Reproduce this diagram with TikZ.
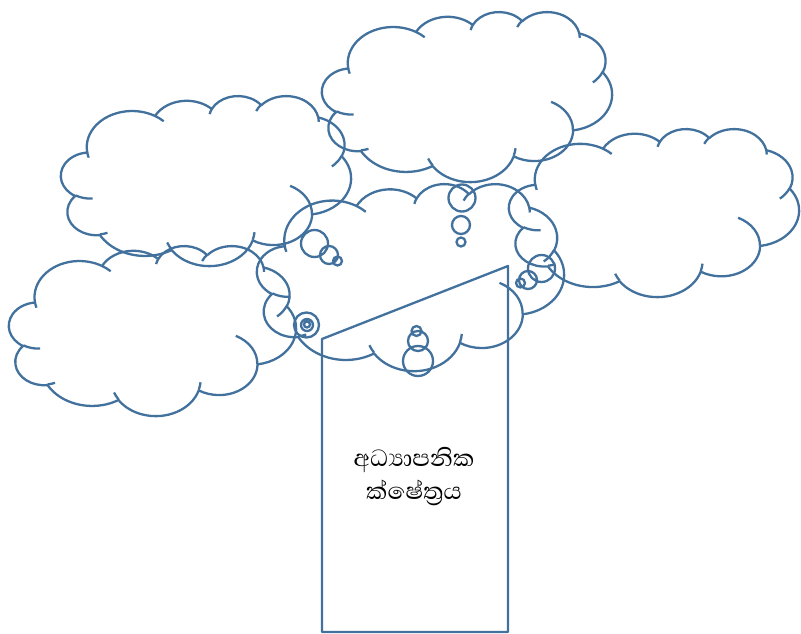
\documentclass[tikz,border=0pt]{standalone}
\usepackage{fontspec}
\newfontfamily\sinhalafont[Script=Sinhala]{Abhaya Libre}
\definecolor{cloudblue}{HTML}{41719C}
\tikzset{outline/.style={draw=cloudblue, line width=2.3pt, line join=round},
         bubble/.style={draw=cloudblue, line width=2.3pt},
% cloud outline on a 100 x 100 grid, y downwards (placed with shift/xscale/yscale)
cloudshape/.pic={
  \draw[outline] (9.0278,33.2639)
    arc[start angle=-187.741, delta angle=128.105, x radius=15.6319pt, y radius=21.2731pt]
    arc[start angle=-152.03, delta angle=106.605, x radius=12.3449pt, y radius=16.8218pt]
    arc[start angle=-153.49, delta angle=116.161, x radius=10.1042pt, y radius=13.7616pt]
    arc[start angle=-139.707, delta angle=129.495, x radius=11.2431pt, y radius=15.2662pt]
    arc[start angle=-74.768, delta angle=97.978, x radius=12.3449pt, y radius=16.8356pt]
    arc[start angle=-37.536, delta angle=119.397, x radius=15.6829pt, y radius=21.3426pt]
    arc[start angle=0.460, delta angle=121.520, x radius=13.3912pt, y radius=18.2106pt]
    arc[start angle=16.845, delta angle=129.414, x radius=15.6296pt, y radius=21.3310pt]
    arc[start angle=58.988, delta angle=91.217, x radius=17.8704pt, y radius=24.4051pt]
    arc[start angle=83.306, delta angle=139.819, x radius=10.0926pt, y radius=13.6991pt]
    arc[start angle=120.352, delta angle=143.759, x radius=10.0579pt, y radius=13.7616pt]
    -- cycle;
  \draw[outline]
    (10.8634,60.5949) arc[start angle=85.547, delta angle=34.805, x radius=10.0579pt, y radius=13.7616pt]
    (16.0370,80.7847) arc[start angle=68.237, delta angle=15.069, x radius=10.0926pt, y radius=13.6991pt]
    (38.1435,90.4861) arc[start angle=146.259, delta angle=12.216, x radius=15.6296pt, y radius=21.3310pt]
    (66.7292,80.4421) arc[start angle=4.738, delta angle=12.107, x radius=15.6296pt, y radius=21.3310pt]
    (79.0023,53.1343) arc[start angle=-64.026, delta angle=64.486, x radius=13.3912pt, y radius=18.2106pt]
    (96.7546,35.5417) arc[start angle=23.210, delta angle=26.430, x radius=12.3449pt, y radius=16.8356pt]
    (88.7130,12.5602) arc[start angle=-10.212, delta angle=11.032, x radius=11.2431pt, y radius=15.2662pt]
    (67.3102,9.1481) arc[start angle=-156.283, delta angle=16.576, x radius=11.2431pt, y radius=15.2662pt]
    (51.2523,10.9259) arc[start angle=-167.726, delta angle=14.236, x radius=10.1042pt, y radius=13.7616pt]
    (32.4074,12.0185) arc[start angle=-59.636, delta angle=13.933, x radius=15.6319pt, y radius=21.2731pt]
    (9.5532,36.5486) arc[start angle=163.193, delta angle=9.066, x radius=15.6319pt, y radius=21.2731pt];
}}
\begin{document}
\begin{tikzpicture}[x=1pt,y=1pt]
\useasboundingbox (0,0) rectangle (801,-634);
% clouds
\pic[shift={(322,-11.5)}, xscale=2.9, yscale=-1.7] (cloudA) {cloudshape};   % top centre
\pic[shift={(61,-95.5)}, xscale=2.9, yscale=-1.7] (cloudB) {cloudshape};    % top left
\pic[shift={(509,-128.5)}, xscale=2.9, yscale=-1.68] (cloudC) {cloudshape}; % right
\pic[shift={(9,-245.5)}, xscale=2.87, yscale=-1.7] (cloudD) {cloudshape};   % bottom left
\pic[shift={(257,-183.5)}, xscale=3.07, yscale=-1.87] (cloudE) {cloudshape};% centre
% tail bubbles
\draw[bubble] (462,-198) circle[radius=13.5pt] (461,-225) circle[radius=9pt] (461,-242) circle[radius=4.5pt];
\draw[bubble] (314.5,-243.5) circle[radius=13.5pt] (329,-255) circle[radius=9pt] (337.5,-261) circle[radius=4.5pt];
\draw[bubble] (541.5,-268.5) circle[radius=13.5pt] (528,-280) circle[radius=9pt] (520.5,-283) circle[radius=4.5pt];
\draw[bubble] (306.5,-325) circle[radius=12.5pt] (307,-325) circle[radius=6pt] (307,-324.5) circle[radius=3pt];
\draw[bubble] (418,-361) circle[radius=15pt] (418,-341) circle[radius=10pt] (416.5,-331) circle[radius=5pt];
% manual input box
\draw[outline] (322,-339) -- (508,-266) -- (508,-632) -- (322,-632) -- cycle;
\node[font=\sinhalafont\fontsize{30}{33}\selectfont, align=center, text=black] (label) at (414,-477)
  {අධ්^^^^200dයාපනික\\ක්ෂේත්^^^^200dරය};
\end{tikzpicture}
\end{document}
